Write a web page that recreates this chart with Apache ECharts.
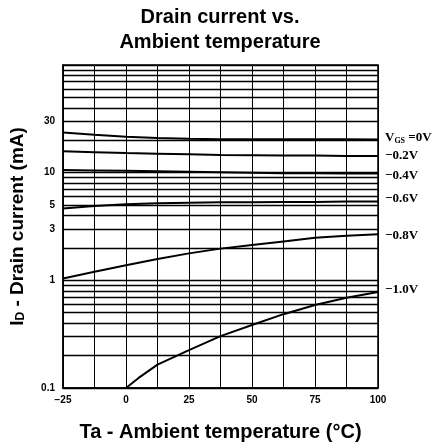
<!DOCTYPE html>
<html>
<head>
<meta charset="utf-8">
<script src="https://cdn.jsdelivr.net/npm/echarts@6/dist/echarts.min.js"></script>
<style>
  html, body { margin: 0; padding: 0; background: #fff; }
  #chart { width: 440px; height: 447px; }
</style>
</head>
<body>
<div id="chart"></div>
<script>
// ---------------- data ----------------
const temps = [-25, -12.5, 0, 12.5, 25, 37.5, 50, 62.5, 75, 87.5, 100];
const idVgs0   = [23.6, 22.5, 21.6, 21.0, 20.6, 20.4, 20.4, 20.4, 20.4, 20.4, 20.3];
const idVgs02  = [15.8, 15.5, 15.2, 15.0, 14.8, 14.6, 14.5, 14.4, 14.4, 14.3, 14.3];
const idVgs04  = [10.6, 10.5, 10.4, 10.3, 10.2, 10.1, 10.0, 9.9, 9.9, 9.8, 9.8];
const idVgs06  = [4.64, 4.9, 5.1, 5.2, 5.25, 5.3, 5.3, 5.35, 5.35, 5.4, 5.4];
const idVgs08  = [1.04, 1.2, 1.38, 1.58, 1.78, 1.97, 2.13, 2.3, 2.48, 2.6, 2.68];
// -1.0V curve only starts at 0 degC
const temps10  = [0, 5, 12.5, 25, 37.5, 50, 62.5, 75, 87.5, 100];
const idVgs10  = [0.1, 0.124, 0.165, 0.225, 0.303, 0.385, 0.485, 0.59, 0.69, 0.78];

const curveNames = ['VGS=0V', '-0.2V', '-0.4V', '-0.6V', '-0.8V', '-1.0V'];
const yTickValues = [0.1, 1, 3, 5, 10, 30];
const xTickLabels = [-25, 0, 25, 50, 75, 100];
// horizontal grid lines inside each decade
const minorGrid = [0.2, 0.3, 0.4, 0.5, 0.6, 0.7, 0.8, 0.9,
                   2, 3, 4, 5, 6, 7, 8, 9,
                   20, 30, 40, 50, 60, 70, 80, 90];

function pairs(xs, ys) {
  return xs.map((x, i) => [x, ys[i]]);
}

function chart() {
  let myChart = echarts.init(document.querySelector('#chart'));

  const curves = [
    { data: pairs(temps, idVgs0),  off: [0, -2] },
    { data: pairs(temps, idVgs02), off: [0, 0] },
    { data: pairs(temps, idVgs04), off: [0, 2] },
    { data: pairs(temps, idVgs06), off: [0, -3] },
    { data: pairs(temps, idVgs08), off: [0, 1] },
    { data: pairs(temps10, idVgs10), off: [0, -2] }
  ];

  const series = curves.map((c, i) => ({
    name: curveNames[i],
    type: 'line',
    data: c.data,
    smooth: false,
    showSymbol: false,
    silent: true,
    lineStyle: { color: '#000', width: 2 },
    endLabel: {
      show: true,
      distance: 7,
      offset: c.off,
      color: '#000',
      fontFamily: 'Liberation Serif',
      fontWeight: 'bold',
      fontSize: 13,
      formatter: () => i === 0 ? '{v|V}{s|GS}{v| =0V}' : curveNames[i].replace('-', '\u2212'),
      rich: {
        v: { fontFamily: 'Liberation Serif', fontWeight: 'bold', fontSize: 13, color: '#000' },
        s: { fontFamily: 'Liberation Serif', fontWeight: 'bold', fontSize: 8, color: '#000', verticalAlign: 'bottom', padding: [6, 0, 0, 0] }
      }
    }
  }));

  // minor horizontal grid lines
  series[0].markLine = {
    silent: true,
    symbol: 'none',
    animation: false,
    label: { show: false },
    lineStyle: { color: '#000', width: 1.3, type: 'solid' },
    data: minorGrid.map(v => ({ yAxis: v }))
  };

  const titleStyle = {
    fontFamily: 'Liberation Sans',
    fontWeight: 'bold',
    fontSize: 20,
    color: '#000'
  };

  let option = {
    animation: false,
    title: [
      { text: 'Drain current vs.', left: 'center', top: 2, textStyle: titleStyle },
      { text: 'Ambient temperature', left: 'center', top: 27, textStyle: titleStyle }
    ],
    grid: {
      left: 60,
      right: 62,
      top: 65,
      bottom: 55,
      show: true,
      borderColor: '#000',
      borderWidth: 1.5
    },
    xAxis: {
      type: 'value',
      min: -25,
      max: 100,
      interval: 12.5,
      name: 'Ta - Ambient temperature (°C)',
      nameLocation: 'middle',
      nameGap: 34,
      nameTextStyle: { fontFamily: 'Liberation Sans', fontWeight: 'bold', fontSize: 20, color: '#000' },
      axisLine: { onZero: false, lineStyle: { color: '#000', width: 1.5 } },
      axisTick: { show: false },
      axisLabel: {
        margin: 7,
        color: '#000',
        fontFamily: 'Liberation Sans',
        fontWeight: 'bold',
        fontSize: 10,
        formatter: v => xTickLabels.includes(v) ? (v < 0 ? '\u2212' + (-v) : String(v)) : ''
      },
      splitLine: { show: true, lineStyle: { color: '#000', width: 1 } }
    },
    yAxis: {
      type: 'log',
      logBase: 10,
      min: 0.1,
      max: 100,
      name: '{b|I}{s|D}{b| - Drain current (mA)}',
      nameLocation: 'middle',
      nameGap: 36,
      nameTextStyle: {
        rich: {
          b: { fontFamily: 'Liberation Sans', fontWeight: 'bold', fontSize: 19, color: '#000' },
          s: { fontFamily: 'Liberation Sans', fontWeight: 'bold', fontSize: 12, color: '#000', padding: [6, 0, 0, 0] }
        }
      },
      axisLine: { onZero: false, lineStyle: { color: '#000', width: 1.5 } },
      axisTick: { show: false },
      axisLabel: {
        margin: 8,
        color: '#000',
        fontFamily: 'Liberation Sans',
        fontWeight: 'bold',
        fontSize: 10,
        customValues: yTickValues,
        formatter: v => String(v)
      },
      splitLine: { show: true, lineStyle: { color: '#000', width: 1.3 } }
    },
    series: series
  };
  myChart.setOption(option);
}

chart();
</script>
</body>
</html>
